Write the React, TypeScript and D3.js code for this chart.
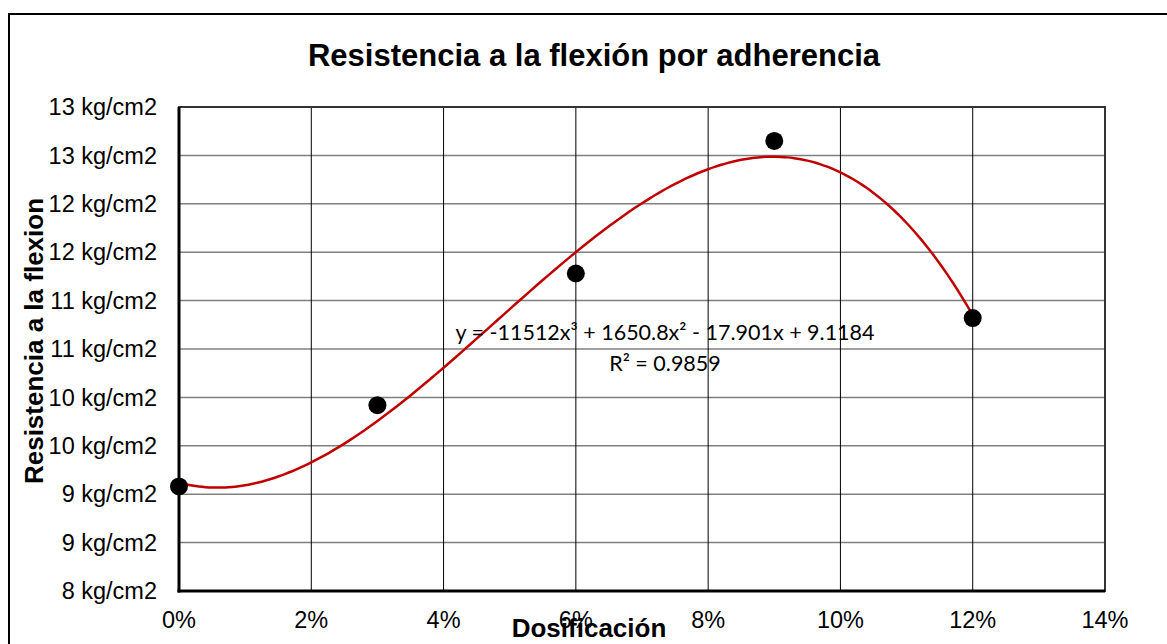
import React from 'react';
import * as d3 from 'd3';

// Data
const dosages = [0, 0.03, 0.06, 0.09, 0.12];
const resistance = [9.08, 9.92, 11.28, 12.65, 10.82];
const yTicks = [8, 8.5, 9, 9.5, 10, 10.5, 11, 11.5, 12, 12.5, 13];
const xTicks = [0, 0.02, 0.04, 0.06, 0.08, 0.1, 0.12, 0.14];
// polynomial trendline coefficients (cubic), as printed on the chart
const trendCoef = [9.1184, -17.901, 1650.8, -11512];

const W = 1167;
const H = 644;
const margin = { top: 107, right: 62, bottom: 53, left: 179 };

export default function App() {
  const x = d3.scaleLinear().domain([0, 0.14]).range([margin.left, W - margin.right]);
  const y = d3.scaleLinear().domain([8, 13]).range([H - margin.bottom, margin.top]);

  const poly = (v: number) =>
    trendCoef.reduce((s, c, i) => s + c * Math.pow(v, i), 0);
  const trendX = d3.range(0, 0.12 + 1e-9, 0.001);
  const line = d3
    .line<number>()
    .x(d => x(d))
    .y(d => y(poly(d)))
    .curve(d3.curveMonotoneX);

  const fmtY = (v: number) => `${Math.round(v + 1e-9)} kg/cm2`;
  const fmtX = d3.format('.0%');

  const x0 = x(0), x1 = x(0.14), y0 = y(8), y1 = y(13);
  const eqFont = 'Lato, Open Sans, sans-serif';

  return (
    <svg width={W} height={H} style={{ position: 'absolute', left: 0, top: 0 }}
      fontFamily="Liberation Sans, Arial, sans-serif">
      <rect x={0} y={0} width={W} height={H} fill="#fff" />
      <rect x={9} y={14} width={W + 20} height={H + 20} fill="none" stroke="#000" strokeWidth={2} />

      <text x={594} y={66} textAnchor="middle" fontSize={31} fontWeight="bold">
        Resistencia a la flexión por adherencia
      </text>

      {/* gridlines */}
      {yTicks.map(t => (
        <line key={'gy' + t} x1={x0} x2={x1} y1={y(t)} y2={y(t)} stroke="#808080" strokeWidth={1.5} />
      ))}
      {xTicks.map(t => (
        <line key={'gx' + t} x1={x(t)} x2={x(t)} y1={y1} y2={y0} stroke="#000" strokeWidth={1} />
      ))}
      <rect x={x0} y={y1} width={x1 - x0} height={y0 - y1} fill="none" stroke="#333" strokeWidth={2} />
      <line x1={x0} x2={x0} y1={y1} y2={y0 + 1.5} stroke="#000" strokeWidth={3} />
      <line x1={x0 - 1.5} x2={x1} y1={y0} y2={y0} stroke="#000" strokeWidth={3} />

      {/* tick labels */}
      {yTicks.map(t => (
        <text key={'ly' + t} x={157} y={y(t)} dy="0.35em" textAnchor="end" fontSize={23.5}>
          {fmtY(t)}
        </text>
      ))}
      {xTicks.map(t => (
        <text key={'lx' + t} x={x(t)} y={628} textAnchor="middle" fontSize={23.5}>
          {fmtX(t)}
        </text>
      ))}

      {/* trendline */}
      <path d={line(trendX) || ''} fill="none" stroke="#c00000" strokeWidth={2.5} />

      {/* points */}
      {dosages.map((d, i) => (
        <circle key={'p' + i} cx={x(d)} cy={y(resistance[i])} r={9} fill="#000" />
      ))}

      {/* equation */}
      <text x={665} y={340} textAnchor="middle" fontSize={21.5} fontFamily={eqFont}>
        y = -11512x³ + 1650.8x² - 17.901x + 9.1184
      </text>
      <text x={665} y={371} textAnchor="middle" fontSize={21.5} fontFamily={eqFont}>
        R² = 0.9859
      </text>

      {/* axis titles */}
      <text x={589} y={637} textAnchor="middle" fontSize={26} fontWeight="bold">
        Dosificación
      </text>
      <text transform="translate(43,341) rotate(-90)" textAnchor="middle" fontSize={26} fontWeight="bold">
        Resistencia a la flexion
      </text>
    </svg>
  );
}
